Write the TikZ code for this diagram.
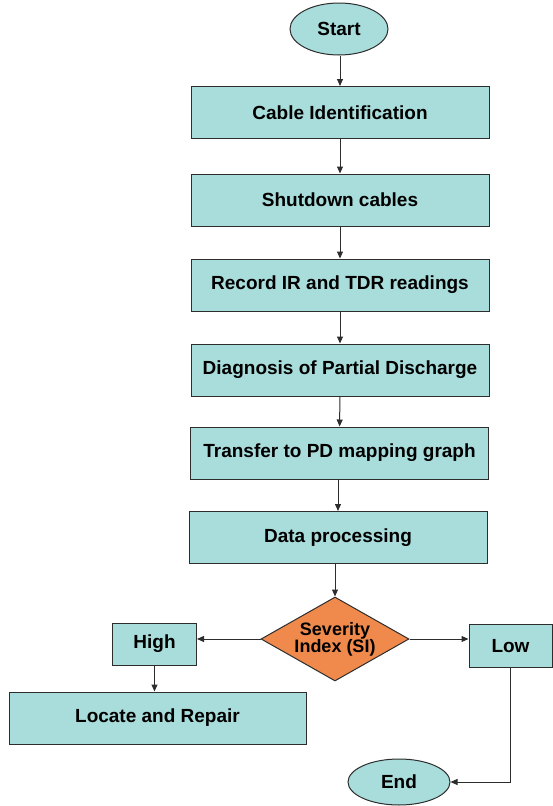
\documentclass[tikz,border=0pt]{standalone}
\usepackage{fontspec}
\setmainfont{Liberation Sans}
\usetikzlibrary{shapes.geometric,arrows.meta}
\definecolor{boxfill}{RGB}{168,221,219}
\definecolor{decfill}{RGB}{240,138,76}
\definecolor{edge}{RGB}{45,45,45}
\tikzset{
  base/.style={draw=edge,line width=1pt,inner sep=0pt,font=\fontsize{19}{21}\selectfont\bfseries,text=black},
  procbox/.style={base,rectangle,fill=boxfill,minimum width=298pt,minimum height=52pt},
  smallbox/.style={base,rectangle,fill=boxfill,minimum width=84pt,minimum height=42pt},
  term/.style={base,ellipse,fill=boxfill},
  decision/.style={base,diamond,fill=decfill,aspect=1.76,minimum width=148pt,minimum height=84pt,align=center,font=\fontsize{18}{17}\selectfont\bfseries},
  conn/.style={draw=edge,line width=1pt,-{Triangle[length=7pt,width=6pt]}}
}
\begin{document}
\begin{tikzpicture}[x=1pt,y=-1pt]
\useasboundingbox (0,0) rectangle (553,806);
\node[term,minimum width=98pt,minimum height=52pt] (start) at (339,29) {Start};
\node[procbox] (cable) at (340,112.5) {Cable Identification};
\node[procbox] (shut) at (340,200) {Shutdown cables};
\node[procbox] (record) at (340,285) {Record IR and TDR readings};
\node[procbox] (diag) at (340,370) {Diagnosis of Partial Discharge};
\node[procbox] (transfer) at (339.5,453) {Transfer to PD mapping graph};
\node[procbox] (dp) at (338,537.5) {Data processing};
\node[decision] (sev) at (335,639) {Severity\\Index (SI)};
\node[smallbox] (high) at (154.5,644) {High};
\node[smallbox,minimum width=83pt,minimum height=43pt] (low) at (510.5,646) {Low};
\node[procbox,minimum width=297pt] (locate) at (157.5,718) {Locate and Repair};
\node[term,minimum width=102pt,minimum height=46pt] (end) at (399,782) {End};
\draw[conn] (start.south -| cable.north) -- (cable.north);
\draw[conn] (cable) -- (shut);
\draw[conn] (shut) -- (record);
\draw[conn] (record) -- (diag);
\draw[conn] (diag) -- (transfer);
\draw[conn] (transfer.south -| dp.north) -- (dp.north);
\draw[conn] (sev.north |- dp.south) -- (sev.north);
\draw[conn] (sev.west) -- (sev.west -| high.east);
\draw[conn] (sev.east) -- (sev.east -| low.west);
\draw[conn] (high.south) -- (high.south |- locate.north);
\draw[conn] (low.south) -- (low.south |- end.east) -- (end.east);
\end{tikzpicture}
\end{document}
